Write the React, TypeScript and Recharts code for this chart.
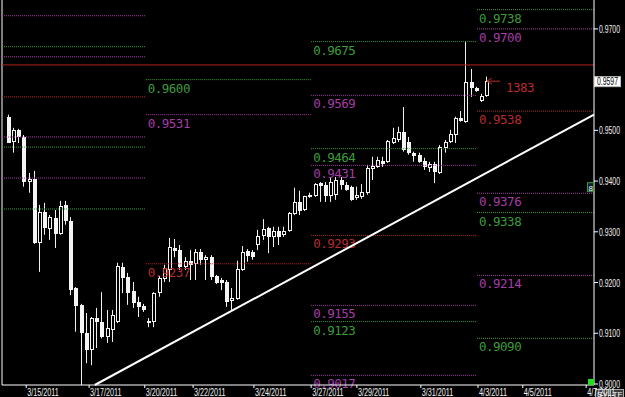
import React from "react";
import { ComposedChart, Bar, XAxis, YAxis, ReferenceLine, ReferenceDot } from "recharts";

// ─── 4h candles (bar 0 = leftmost) ─────────────────────────────────────────────
const OPEN = [
  0.9527, 0.9477, 0.9501, 0.9487, 0.9398, 0.9404, 0.9278, 0.9339, 0.9306, 0.9327,
  0.9296, 0.9353, 0.9321, 0.9189, 0.9156, 0.9101, 0.9067, 0.9130, 0.9122, 0.9093,
  0.9106, 0.9122, 0.9231, 0.9211, 0.9183, 0.9162, 0.9154, 0.9124, 0.9122, 0.9179,
  0.9207, 0.9225, 0.9268, 0.9264, 0.9231, 0.9243, 0.9237, 0.9260, 0.9245, 0.9250,
  0.9213, 0.9205, 0.9201, 0.9164, 0.9168, 0.9225, 0.9262, 0.9260, 0.9274, 0.9292,
  0.9308, 0.9290, 0.9302, 0.9294, 0.9302, 0.9335, 0.9359, 0.9343, 0.9369, 0.9371,
  0.9396, 0.9392, 0.9371, 0.9373, 0.9402, 0.9392, 0.9389, 0.9367, 0.9369, 0.9377,
  0.9424, 0.9428, 0.9440, 0.9438, 0.9475, 0.9481, 0.9497, 0.9477, 0.9456, 0.9452,
  0.9440, 0.9426, 0.9434, 0.9416, 0.9465, 0.9477, 0.9491, 0.9525, 0.9517, 0.9596,
  0.9584, 0.9558, 0.9568,
];
const HIGH = [
  0.9531, 0.9505, 0.9503, 0.9491, 0.9416, 0.9420, 0.9353, 0.9357, 0.9333, 0.9343,
  0.9361, 0.9361, 0.9329, 0.9191, 0.9158, 0.9140, 0.9132, 0.9150, 0.9181, 0.9146,
  0.9146, 0.9239, 0.9239, 0.9219, 0.9201, 0.9172, 0.9158, 0.9130, 0.9181, 0.9213,
  0.9235, 0.9288, 0.9286, 0.9274, 0.9250, 0.9264, 0.9266, 0.9266, 0.9254, 0.9254,
  0.9215, 0.9209, 0.9205, 0.9189, 0.9243, 0.9272, 0.9266, 0.9264, 0.9304, 0.9325,
  0.9310, 0.9310, 0.9310, 0.9310, 0.9339, 0.9387, 0.9381, 0.9371, 0.9377, 0.9396,
  0.9398, 0.9398, 0.9406, 0.9408, 0.9408, 0.9398, 0.9391, 0.9389, 0.9394, 0.9432,
  0.9448, 0.9448, 0.9448, 0.9481, 0.9505, 0.9507, 0.9546, 0.9487, 0.9458, 0.9456,
  0.9446, 0.9438, 0.9438, 0.9471, 0.9481, 0.9501, 0.9527, 0.9538, 0.9675, 0.9621,
  0.9586, 0.9572, 0.9606,
];
const LOW = [
  0.9475, 0.9456, 0.9475, 0.9389, 0.9377, 0.9276, 0.9221, 0.9294, 0.9284, 0.9268,
  0.9294, 0.9314, 0.9175, 0.9103, 0.8998, 0.9041, 0.9037, 0.9071, 0.9090, 0.9081,
  0.9083, 0.9120, 0.9179, 0.9156, 0.9150, 0.9132, 0.9142, 0.9112, 0.9112, 0.9172,
  0.9201, 0.9201, 0.9250, 0.9225, 0.9225, 0.9205, 0.9205, 0.9235, 0.9205, 0.9205,
  0.9197, 0.9185, 0.9152, 0.9146, 0.9166, 0.9223, 0.9241, 0.9245, 0.9264, 0.9284,
  0.9258, 0.9270, 0.9274, 0.9290, 0.9300, 0.9333, 0.9333, 0.9341, 0.9367, 0.9369,
  0.9359, 0.9359, 0.9359, 0.9363, 0.9383, 0.9381, 0.9361, 0.9363, 0.9365, 0.9373,
  0.9402, 0.9426, 0.9428, 0.9436, 0.9473, 0.9477, 0.9458, 0.9452, 0.9438, 0.9436,
  0.9422, 0.9418, 0.9396, 0.9414, 0.9456, 0.9475, 0.9475, 0.9517, 0.9515, 0.9566,
  0.9576, 0.9556, 0.9566,
];
const CLOSE = [
  0.9475, 0.9501, 0.9487, 0.9398, 0.9404, 0.9278, 0.9339, 0.9308, 0.9329, 0.9296,
  0.9351, 0.9321, 0.9185, 0.9154, 0.9101, 0.9067, 0.9130, 0.9122, 0.9093, 0.9110,
  0.9136, 0.9233, 0.9209, 0.9179, 0.9160, 0.9152, 0.9146, 0.9120, 0.9179, 0.9209,
  0.9229, 0.9270, 0.9262, 0.9231, 0.9243, 0.9235, 0.9260, 0.9245, 0.9250, 0.9211,
  0.9199, 0.9199, 0.9162, 0.9170, 0.9227, 0.9260, 0.9252, 0.9250, 0.9292, 0.9306,
  0.9290, 0.9302, 0.9290, 0.9302, 0.9337, 0.9359, 0.9341, 0.9371, 0.9373, 0.9394,
  0.9391, 0.9371, 0.9398, 0.9402, 0.9392, 0.9383, 0.9363, 0.9373, 0.9379, 0.9426,
  0.9430, 0.9442, 0.9434, 0.9479, 0.9485, 0.9497, 0.9462, 0.9456, 0.9450, 0.9438,
  0.9428, 0.9434, 0.9418, 0.9467, 0.9477, 0.9493, 0.9525, 0.9519, 0.9596, 0.9584,
  0.9578, 0.9568, 0.9597,
];

// ─── x axis (bar index) ────────────────────────────────────────────────────────
const X_MIN = -1.15;
const X_MAX = 112.7;
const DATE_TICK_BARS = [3.5, 15.6, 26.3, 35.6, 47.3, 58.3, 67.1, 79.4, 90.4, 99.0, 111.2];
const DATE_LABELS = [
  "3/15/2011", "3/17/2011", "3/20/2011", "3/22/2011", "3/24/2011", "3/27/2011",
  "3/29/2011", "3/31/2011", "4/3/2011", "4/5/2011", "4/7/2011",
];

// ─── price axis ────────────────────────────────────────────────────────────────
const Y_MIN = 0.8998;
const Y_MAX = 0.9757;
const PRICE_TICKS = [0.9, 0.91, 0.92, 0.93, 0.94, 0.95, 0.97];
const LAST_PRICE = 0.9597;
const SPREAD_TEXT = "1383";
const MARKER_PRICE = 0.9388;
const MARKER_TEXT = "8";

// ─── weekly pivot levels (g = green, p = purple, r = red) ──────────────────────
const WEEK_START_BARS = [X_MIN, 26.5, 58.3, 90.2];
const WEEK1_LEVELS = [0.9726, 0.9665, 0.9645, 0.9566, 0.9487, 0.9467, 0.9406, 0.9345];
const WEEK1_KINDS = ["p", "g", "p", "r", "p", "g", "p", "g"];
const WEEK2_LEVELS = [0.96, 0.9531, 0.9237];
const WEEK2_KINDS = ["g", "p", "r"];
const WEEK3_LEVELS = [0.9675, 0.9569, 0.9464, 0.9431, 0.9293, 0.9155, 0.9123, 0.9017];
const WEEK3_KINDS = ["g", "p", "g", "p", "r", "p", "g", "p"];
const WEEK4_LEVELS = [0.9738, 0.97, 0.9538, 0.9376, 0.9338, 0.9214, 0.909];
const WEEK4_KINDS = ["g", "p", "r", "p", "g", "p", "g"];
const RESISTANCE = 0.9629;

// trend line anchors (bar index, price)
const TREND_BARS = [16.7, X_MAX];
const TREND_PRICES = [0.8998, 0.9531];

const COLORS: Record<string, string> = { g: "#3c9c3c", p: "#a63ca6", r: "#b82c2c" };
const LCD_FONT = "'DejaVu Sans Mono', 'Liberation Mono', monospace";
const SMALL_FONT = "'Liberation Sans', Arial, sans-serif";

const candles = OPEN.map((o, i) => ({
  i,
  open: o,
  high: HIGH[i],
  low: LOW[i],
  close: CLOSE[i],
  range: [LOW[i], HIGH[i]],
}));

const weeks = [
  { levels: WEEK1_LEVELS, kinds: WEEK1_KINDS, showLabel: false },
  { levels: WEEK2_LEVELS, kinds: WEEK2_KINDS, showLabel: true },
  { levels: WEEK3_LEVELS, kinds: WEEK3_KINDS, showLabel: true },
  { levels: WEEK4_LEVELS, kinds: WEEK4_KINDS, showLabel: true },
];

const Candle = (props: any) => {
  const { x, y, width, height, payload } = props;
  const { open, close, high, low } = payload;
  const top = Math.min(y, y + height);
  const h = Math.abs(height);
  const k = h / (high - low || 1);
  const yOf = (v: number) => top + (high - v) * k;
  const c = Math.round(x + width / 2);
  const bTop = Math.round(yOf(Math.max(open, close)));
  const bBot = Math.round(yOf(Math.min(open, close)));
  const bH = Math.max(1, bBot - bTop);
  const up = close >= open;
  return (
    <g>
      <line x1={c + 0.5} x2={c + 0.5} y1={top} y2={top + h} stroke="#f0f0f0" strokeWidth={1} />
      {up ? (
        <rect x={c - 0.5} y={bTop + 0.5} width={3} height={Math.max(1, bH - 1)} fill="#000" stroke="#f4f4f4" strokeWidth={1} />
      ) : (
        <rect x={c - 1} y={bTop} width={4} height={bH} fill="#f4f4f4" />
      )}
    </g>
  );
};

const levelLabel = (text: string, color: string) => (props: any) => {
  const vb = props.viewBox || {};
  return (
    <text x={(vb.x ?? 0) + 2} y={(vb.y ?? 0) + 13} fill={color} fontFamily={LCD_FONT} fontSize={12.5} letterSpacing={-0.5}>
      {text}
    </text>
  );
};

// small MT4-like axis text, squeezed to the narrow width of the original font
const SmallText = ({ x, y, text, fill = "#f0f0f0" }: any) => (
  <text
    x={x}
    y={y}
    fill={fill}
    fontSize={10}
    fontFamily={SMALL_FONT}
    textLength={text.length * 3.5}
    lengthAdjust="spacingAndGlyphs"
  >
    {text}
  </text>
);

const DateTick = (props: any) => {
  const { x, y, payload } = props;
  const idx = DATE_TICK_BARS.indexOf(payload.value);
  return <SmallText x={x + 1} y={y + 6} text={DATE_LABELS[idx] ?? ""} />;
};

const PriceTick = (props: any) => {
  const { x, y, payload } = props;
  return <SmallText x={x} y={y + 4} text={Number(payload.value).toFixed(4)} />;
};

const PriceBox = (props: any) => {
  const vb = props.viewBox || {};
  const xr = (vb.x ?? 0) + (vb.width ?? 0);
  const cy = vb.y ?? 0;
  return (
    <g>
      <rect x={xr + 0.5} y={cy - 4.5} width={26} height={10} fill="#fff" stroke="#bbb" />
      <SmallText x={xr + 3} y={cy + 4} text={LAST_PRICE.toFixed(4)} fill="#000" />
    </g>
  );
};

const SpreadMark = (props: any) => {
  const { cx, cy } = props;
  return (
    <g>
      <line x1={cx} x2={cx + 13} y1={cy} y2={cy} stroke={COLORS.r} strokeWidth={1} />
      <line x1={cx} x2={cx + 5} y1={cy} y2={cy - 3} stroke={COLORS.r} strokeWidth={1} />
      <line x1={cx} x2={cx + 5} y1={cy} y2={cy + 3} stroke={COLORS.r} strokeWidth={1} />
      <text x={cx + 19} y={cy + 11} fill={COLORS.r} fontFamily={LCD_FONT} fontSize={12.5} letterSpacing={-0.5}>
        {SPREAD_TEXT}
      </text>
    </g>
  );
};

const AxisMarker = (props: any) => {
  const { cx, cy } = props;
  return (
    <g>
      <rect x={cx - 6.5} y={cy - 4.5} width={6} height={9} fill="#123" stroke="#3c9c3c" />
      <text x={cx - 5.5} y={cy + 3.5} fill="#fff" fontSize={8} fontFamily={SMALL_FONT}>{MARKER_TEXT}</text>
    </g>
  );
};

const CornerMarks = (props: any) => {
  const { cx, cy } = props;
  return (
    <g>
      <rect x={cx - 6} y={cy - 6} width={6} height={6} fill="#22dd22" />
      <rect x={cx + 1.5} y={cy + 4.5} width={13} height={9} fill="#3a3a3a" stroke="#aaa" />
      <text x={cx + 3} y={cy + 12} fill="#fff" fontSize={8} fontFamily={SMALL_FONT}>SY</text>
      <rect x={cx + 16.5} y={cy + 4.5} width={13} height={9} fill="#3a3a3a" stroke="#aaa" />
      <text x={cx + 18.5} y={cy + 12} fill="#fff" fontSize={8} fontFamily={SMALL_FONT}>TF</text>
    </g>
  );
};

export default function App() {
  return (
    <div style={{ position: "absolute", left: 0, top: 0, width: 625, height: 397, background: "#000", overflow: "hidden" }}>
      <ComposedChart width={625} height={397} data={candles} margin={{ top: 0, right: 0, bottom: 0, left: 2 }}>
        <XAxis
          dataKey="i"
          type="number"
          domain={[X_MIN, X_MAX]}
          ticks={DATE_TICK_BARS}
          interval={0}
          height={12}
          axisLine={{ stroke: "#fff" }}
          tickLine={{ stroke: "#fff" }}
          tickSize={3}
          tick={<DateTick />}
          allowDataOverflow
        />
        <YAxis
          orientation="right"
          type="number"
          domain={[Y_MIN, Y_MAX]}
          ticks={PRICE_TICKS}
          interval={0}
          width={31}
          axisLine={{ stroke: "#fff" }}
          tickLine={{ stroke: "#fff" }}
          tickSize={4}
          tickMargin={1}
          tick={<PriceTick />}
          allowDataOverflow
        />
        <ReferenceLine x={X_MIN} stroke="#fff" />
        {weeks.map((w, wi) =>
          w.levels.map((v, li) => (
            <ReferenceLine
              key={`lv-${wi}-${li}`}
              segment={[
                { x: WEEK_START_BARS[wi], y: v },
                { x: wi + 1 < WEEK_START_BARS.length ? WEEK_START_BARS[wi + 1] : X_MAX, y: v },
              ]}
              stroke={COLORS[w.kinds[li]]}
              strokeDasharray="1 1"
              ifOverflow="visible"
              label={w.showLabel ? levelLabel(v.toFixed(4), COLORS[w.kinds[li]]) : undefined}
            />
          ))
        )}
        <ReferenceLine y={RESISTANCE} stroke="#b42020" strokeWidth={1} />
        <ReferenceLine y={LAST_PRICE} stroke="none" label={PriceBox} />
        <Bar dataKey="range" barSize={5} shape={<Candle />} isAnimationActive={false} />
        <ReferenceLine
          segment={[
            { x: TREND_BARS[0], y: TREND_PRICES[0] },
            { x: TREND_BARS[1], y: TREND_PRICES[1] },
          ]}
          stroke="#fff"
          strokeWidth={2}
          ifOverflow="visible"
        />
        <ReferenceDot x={92.1} y={LAST_PRICE} r={0} ifOverflow="visible" shape={SpreadMark} />
        <ReferenceDot x={X_MAX} y={MARKER_PRICE} r={0} ifOverflow="visible" shape={AxisMarker} />
        <ReferenceDot x={X_MAX} y={Y_MIN} r={0} ifOverflow="visible" shape={CornerMarks} />
      </ComposedChart>
    </div>
  );
}
